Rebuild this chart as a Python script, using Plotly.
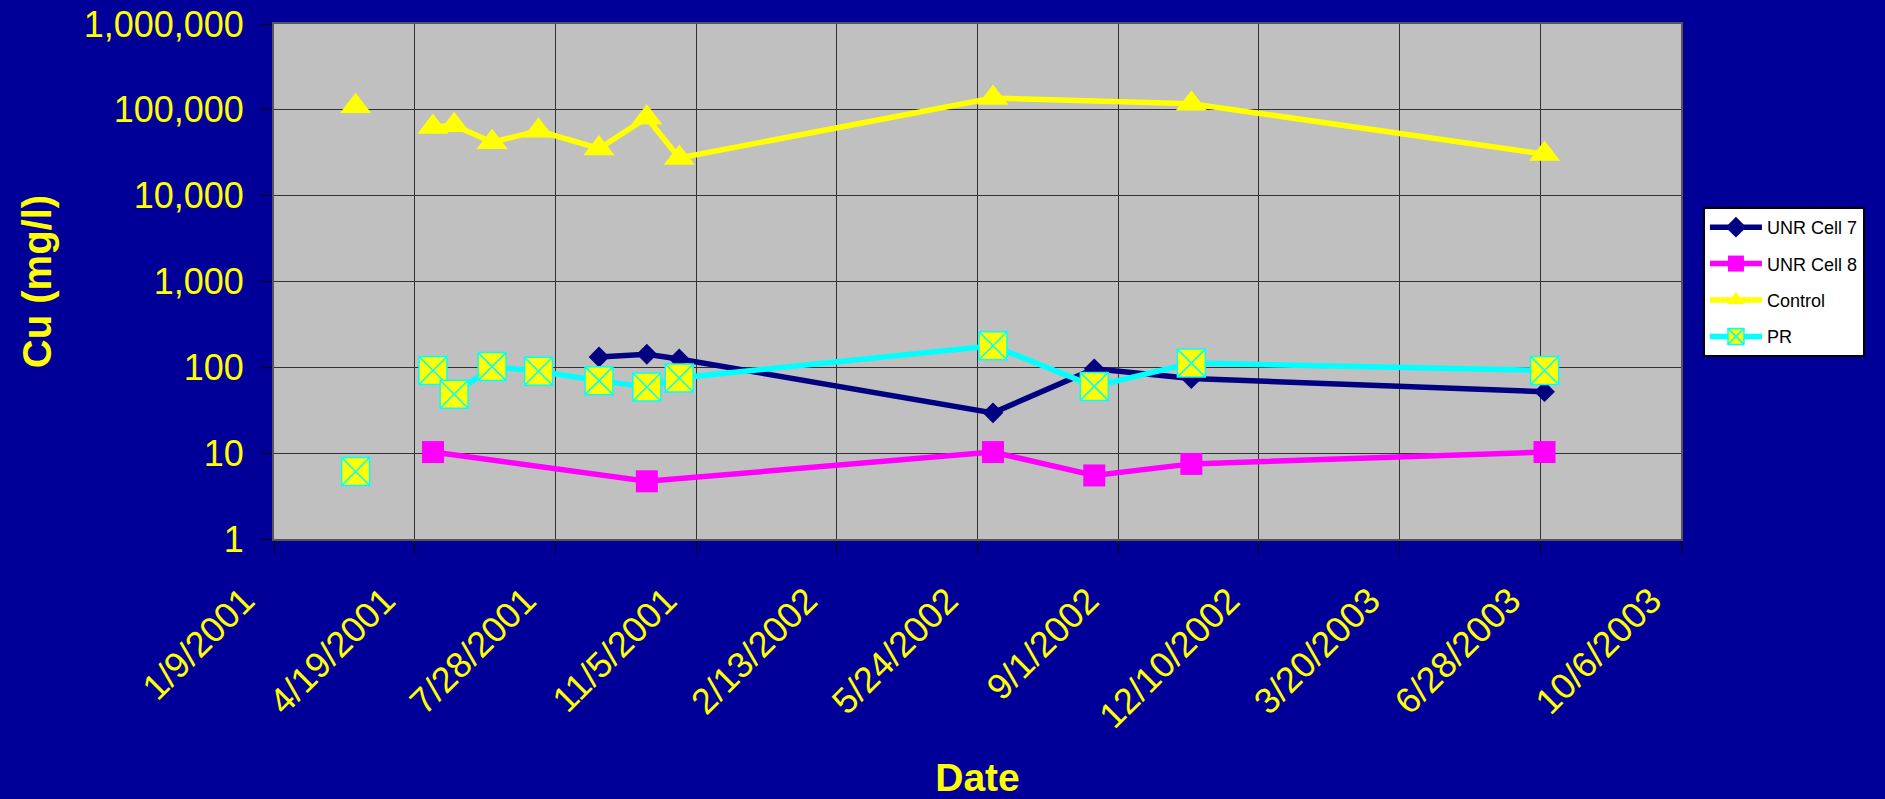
import plotly.graph_objects as go

# Sampling dates (m/d/yyyy) shared by all series
sample_dates = ["3/8/2001", "5/2/2001", "5/17/2001", "6/13/2001", "7/16/2001",
                "8/28/2001", "10/1/2001", "10/24/2001", "6/4/2002", "8/15/2002",
                "10/23/2002", "7/1/2003"]

# Cu concentration (mg/l); None = not sampled
unr_cell7 = [None, None, None, None, None, 132, 142, 125, 29.5, 96, 74, 52]
unr_cell8 = [None, 10.3, None, None, None, None, 4.7, None, 10.3, 5.5, 7.5, 10.3]
control = [110000, 63000, 66000, 42000, 57000, 35500, 81000, 27500, 137000, None, 118000, 30500]
pr = [6.1, 92, 48.5, 102, 90, 70, 59, 75, 178, 60, 112, 92]

x_tick_labels = ["1/9/2001", "4/19/2001", "7/28/2001", "11/5/2001", "2/13/2002",
                 "5/24/2002", "9/1/2002", "12/10/2002", "3/20/2003", "6/28/2003",
                 "10/6/2003"]
y_tick_values = [1, 10, 100, 1000, 10000, 100000, 1000000]
y_tick_labels = ["1", "10", "100", "1,000", "10,000", "100,000", "1,000,000"]

FONT = "Liberation Sans, Arial, Helvetica, sans-serif"
NAVY_BG = "#000099"
YELLOW = "#FFFF00"


def iso(mdy):
    m, d, y = mdy.split("/")
    return f"{y}-{int(m):02d}-{int(d):02d}"


def series_xy(values, split_first=False):
    """Skip unsampled dates; optionally leave the first sample unconnected."""
    pts = [(iso(d), v) for d, v in zip(sample_dates, values) if v is not None]
    xs = [p[0] for p in pts]
    ys = [p[1] for p in pts]
    if split_first:
        xs = xs[:1] + [None] + xs[1:]
        ys = ys[:1] + [None] + ys[1:]
    return xs, ys


series = [
    ("UNR Cell 7", unr_cell7, False,
     dict(color="#000080", width=5.5),
     dict(symbol="diamond", size=16, color="#000080")),
    ("UNR Cell 8", unr_cell8, False,
     dict(color="#FF00FF", width=5.5),
     dict(symbol="square", size=22, color="#FF00FF")),
    ("Control", control, True,
     dict(color=YELLOW, width=5.5),
     dict(symbol="triangle-up", size=27, color=YELLOW)),
    ("PR", pr, True,
     dict(color="#00FFFF", width=5.5),
     dict(symbol="square-x", size=28, color=YELLOW,
          line=dict(color="#00FFFF", width=1.5))),
]

fig = go.Figure()
for name, vals, split, line, marker in series:
    xs, ys = series_xy(vals, split)
    fig.add_trace(go.Scatter(
        x=xs, y=ys, name=name, mode="lines+markers",
        line=line, marker=marker, connectgaps=False, legendgroup=name,
    ))

fig.update_layout(
    width=1885, height=799,
    margin=dict(l=274, r=204, t=24, b=260, pad=0),
    paper_bgcolor=NAVY_BG,
    plot_bgcolor="#C0C0C0",
    font=dict(family=FONT, color=YELLOW),
    showlegend=True,
    legend=dict(
        x=1.0156, y=0.6447, xanchor="left", yanchor="top",
        bgcolor="white", bordercolor="black", borderwidth=2,
        font=dict(family=FONT, size=18, color="black"),
        traceorder="grouped", tracegroupgap=10, itemwidth=52,
    ),
)

fig.update_xaxes(
    type="date",
    automargin=False,
    range=[iso(x_tick_labels[0]), iso(x_tick_labels[-1])],
    tickmode="array",
    tickvals=[iso(s) for s in x_tick_labels],
    ticktext=x_tick_labels,
    tickangle=-45,
    tickfont=dict(family=FONT, size=36, color=YELLOW),
    ticks="outside", ticklen=12, tickcolor="black", tickwidth=1,
    ticklabelstandoff=12,
    ticklabelshift=-30,
    showgrid=True, gridcolor="#333333", gridwidth=1,
    showline=True, linecolor="#555555", linewidth=2, mirror=True,
    zeroline=False,
    title=dict(text="<b>Date</b>", font=dict(family=FONT, size=39, color=YELLOW),
               standoff=48),
)

fig.update_yaxes(
    type="log",
    automargin=False,
    range=[0, 6],
    tickmode="array",
    tickvals=y_tick_values,
    ticktext=y_tick_labels,
    tickfont=dict(family=FONT, size=36, color=YELLOW),
    ticks="outside", ticklen=11, tickcolor="black", tickwidth=1,
    ticklabelstandoff=10,
    showgrid=True, gridcolor="#333333", gridwidth=1,
    showline=True, linecolor="#555555", linewidth=2, mirror=True,
    zeroline=False,
    title=dict(text="<b>Cu (mg/l)</b>", font=dict(family=FONT, size=40, color=YELLOW),
               standoff=20),
)

fig.write_html("out.html")
